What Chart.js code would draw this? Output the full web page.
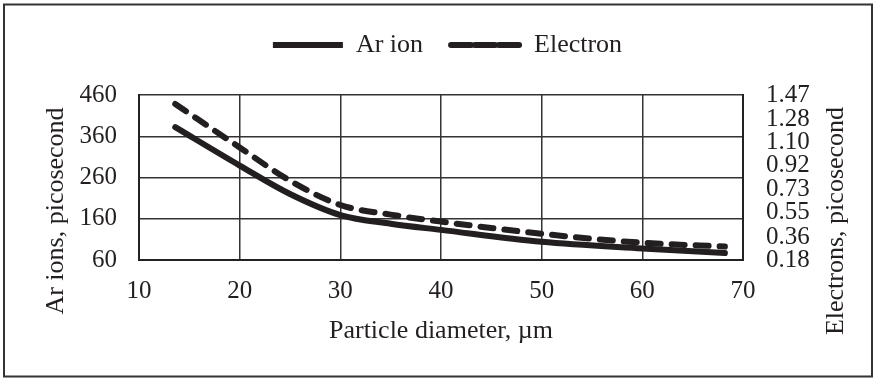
<!DOCTYPE html>
<html>
<head>
<meta charset="utf-8">
<script src="https://cdn.jsdelivr.net/npm/chart.js@4.4.1/dist/chart.umd.min.js"></script>
<style>
  html, body { margin: 0; padding: 0; background: #fff; }
  #wrap { width: 876px; height: 378px; position: relative; }
</style>
</head>
<body>
<div id="wrap"><canvas id="timeChart"></canvas></div>
<script>
// Particle diameter (um) and the two time series
const diameters = [13.6, 20, 25, 30, 35, 40, 50, 60, 68.2];
const arIonTimes = [382, 289, 220, 169, 148, 133, 104, 88, 77];
const electronTimes = [1.40, 1.06, 0.80, 0.61, 0.535, 0.48, 0.385, 0.315, 0.285];
const electronTicks = [0.18, 0.36, 0.55, 0.73, 0.92, 1.10, 1.28, 1.47];

const ink = '#231f20';
const serif = '"Liberation Serif", "Times New Roman", serif';

document.addEventListener("DOMContentLoaded", function () {
    const ctx = document.getElementById('timeChart').getContext('2d');

    // frame + rotated axis titles
    const decor = {
        id: 'decor',
        beforeInit(chart) {
            const fit = chart.legend.fit;
            chart.legend.fit = function () {
                fit.call(this);
                this.height = 91;
            };
        },
        afterDraw(chart) {
            const c = chart.ctx;
            c.save();
            c.strokeStyle = '#333';
            c.lineWidth = 2;
            c.strokeRect(4, 4.5, 868, 372);
            c.fillStyle = ink;
            c.font = '26px ' + serif;
            c.textAlign = 'center';
            c.textBaseline = 'middle';
            c.translate(56, 211);
            c.rotate(-Math.PI / 2);
            c.fillText('Ar ions, picosecond', 0, 0);
            c.restore();
            c.save();
            c.fillStyle = ink;
            c.font = '26px ' + serif;
            c.textAlign = 'center';
            c.textBaseline = 'middle';
            c.translate(836, 221);
            c.rotate(-Math.PI / 2);
            c.fillText('Electrons, picosecond', 0, 0);
            c.restore();
        }
    };

    new Chart(ctx, {
        type: 'line',
        data: {
            datasets: [{
                label: 'Ar ion',
                data: diameters.map((d, i) => ({ x: d, y: arIonTimes[i] })),
                borderColor: ink,
                backgroundColor: ink,
                borderWidth: 6,
                borderCapStyle: 'round',
                pointRadius: 0,
                cubicInterpolationMode: 'monotone',
                yAxisID: 'y'
            }, {
                label: 'Electron',
                data: diameters.map((d, i) => ({ x: d, y: electronTimes[i] })),
                borderColor: ink,
                backgroundColor: ink,
                borderWidth: 6,
                borderDash: [13, 11],
                borderCapStyle: 'round',
                pointRadius: 0,
                cubicInterpolationMode: 'monotone',
                yAxisID: 'y1'
            }]
        },
        options: {
            responsive: true,
            maintainAspectRatio: false,
            animation: false,
            layout: { padding: { top: 4, left: 19, right: 0, bottom: 0 } },
            plugins: {
                legend: {
                    display: true,
                    position: 'top',
                    labels: {
                        color: ink,
                        font: { family: serif, size: 26 },
                        boxWidth: 70,
                        boxHeight: 0,
                        padding: 28
                    }
                },
                tooltip: { enabled: false }
            },
            scales: {
                x: {
                    type: 'linear',
                    min: 10,
                    max: 70,
                    ticks: { stepSize: 10, color: ink, font: { family: serif, size: 25 }, padding: 16 },
                    grid: { color: '#333', lineWidth: 1.5, drawTicks: false },
                    border: { color: '#222', width: 2 },
                    title: {
                        display: true,
                        text: 'Particle diameter, µm',
                        color: ink,
                        font: { family: serif, size: 26 },
                        padding: { top: 0, bottom: 31 }
                    },
                    afterFit(scale) { scale.height = 118; }
                },
                y: {
                    position: 'left',
                    min: 60,
                    max: 460,
                    ticks: { stepSize: 100, color: ink, font: { family: serif, size: 25 }, padding: 22 },
                    grid: { color: '#333', lineWidth: 1.5, drawTicks: false },
                    border: { color: '#222', width: 2 },
                    afterFit(scale) { scale.width = 120; }
                },
                y1: {
                    position: 'right',
                    min: 0.18,
                    max: 1.47,
                    afterBuildTicks(scale) {
                        scale.ticks = electronTicks.map(v => ({ value: v }));
                    },
                    ticks: {
                        autoSkip: false,
                        color: ink,
                        font: { family: serif, size: 25 },
                        padding: 23,
                        callback: v => Number(v).toFixed(2)
                    },
                    grid: { display: false, drawTicks: false },
                    border: { color: '#222', width: 2 },
                    afterFit(scale) { scale.width = 133; }
                }
            }
        },
        plugins: [decor]
    });
});
</script>
</body>
</html>
